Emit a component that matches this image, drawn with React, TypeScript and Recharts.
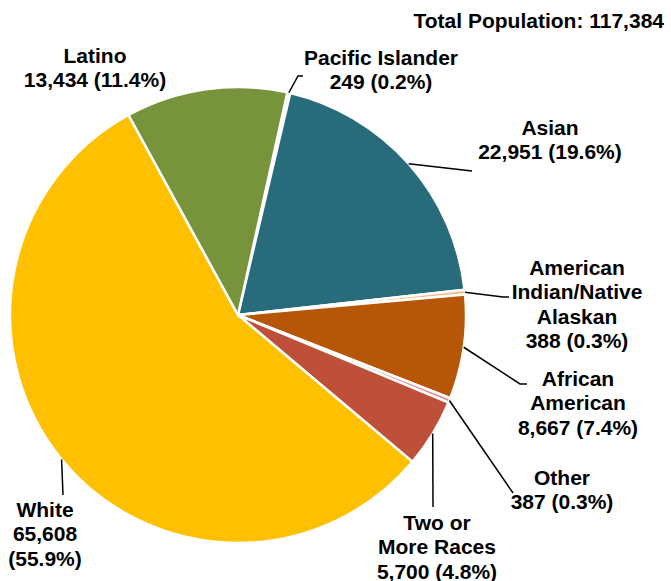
import React from "react";
import { PieChart, Pie, Cell } from "recharts";

const names = [
  "Pacific Islander",
  "Asian",
  "American Indian/Native Alaskan",
  "African American",
  "Other",
  "Two or More Races",
  "White",
  "Latino",
];
const values = [249, 22951, 388, 8667, 387, 5700, 65608, 13434];
const percentLabels = ["0.2%", "19.6%", "0.3%", "7.4%", "0.3%", "4.8%", "55.9%", "11.4%"];
const nameLines = [
  ["Pacific Islander"],
  ["Asian"],
  ["American", "Indian/Native", "Alaskan"],
  ["African", "American"],
  ["Other"],
  ["Two or", "More Races"],
  ["White"],
  ["Latino"],
];
const colors = ["#9DC3E6", "#286B7A", "#F8BD8E", "#B65708", "#D99694", "#BE4F38", "#FFC000", "#77933C"];
const totalLabel = "Total Population: 117,384";

// label layout, relative to pie centre: text centre (tx, ty of first line), leader elbow/end
const labelLayout = [
  { tx: 143, ty: -258, elbow: [60, -239], end: [65, -239], splitValue: false },
  { tx: 312, ty: -188, elbow: null, end: [234, -144], splitValue: false },
  { tx: 339, ty: -48, elbow: [265, -18], end: [271, -18], splitValue: false },
  { tx: 340, ty: 63, elbow: [282, 69], end: [289, 69], splitValue: false },
  { tx: 324, ty: 162, elbow: null, end: [275, 178], splitValue: false },
  { tx: 199, ty: 207, elbow: null, end: [195, 192], splitValue: false },
  { tx: -193, ty: 194, elbow: null, end: [-175, 180], splitValue: true },
  { tx: -143, ty: -260, elbow: null, end: null, splitValue: false },
];

const data = names.map((name, i) => ({ name, value: values[i] }));
const fmt = (v: number) => v.toLocaleString("en-US");
const FONT = '"Liberation Sans", Arial, sans-serif';
const RAD = Math.PI / 180;
const LINE_H = 24.5;

const renderLabel = (props: any) => {
  const { cx, cy, midAngle, outerRadius, index } = props;
  const lay = labelLayout[index];
  const lines = lay.splitValue
    ? [...nameLines[index], fmt(values[index]), `(${percentLabels[index]})`]
    : [...nameLines[index], `${fmt(values[index])} (${percentLabels[index]})`];
  const sx = cx + outerRadius * Math.cos(-midAngle * RAD);
  const sy = cy + outerRadius * Math.sin(-midAngle * RAD);
  let path = "";
  if (lay.end) {
    path = `M${sx},${sy}`;
    if (lay.elbow) path += ` L${cx + lay.elbow[0]},${cy + lay.elbow[1]}`;
    path += ` L${cx + lay.end[0]},${cy + lay.end[1]}`;
  }
  return (
    <g key={`lbl-${index}`}>
      {path && <path d={path} stroke="#000" strokeWidth={1.5} fill="none" />}
      <text
        x={cx + lay.tx}
        y={cy + lay.ty}
        textAnchor="middle"
        fontFamily={FONT}
        fontWeight="bold"
        fontSize={21}
        fill="#000"
      >
        {lines.map((l, k) => (
          <tspan key={k} x={cx + lay.tx} y={cy + lay.ty + k * LINE_H + 7.5}>
            {l}
          </tspan>
        ))}
      </text>
    </g>
  );
};

export default function App() {
  return (
    <div style={{ position: "absolute", left: 0, top: 0, width: 671, height: 581, background: "#fff" }}>
      <PieChart width={671} height={581} margin={{ top: 0, right: 0, bottom: 0, left: 0 }}>
        <Pie
          data={data}
          dataKey="value"
          nameKey="name"
          cx={238}
          cy={315}
          outerRadius={228}
          startAngle={77.5}
          endAngle={-282.5}
          stroke="#fff"
          strokeWidth={2.5}
          isAnimationActive={false}
          label={renderLabel}
          labelLine={false}
        >
          {data.map((d, i) => (
            <Cell key={d.name} fill={colors[i]} />
          ))}
        </Pie>
      </PieChart>
      <div
        style={{
          position: "absolute",
          right: 7,
          top: 8,
          fontFamily: FONT,
          fontWeight: "bold",
          fontSize: 21,
          lineHeight: "25px",
          color: "#000",
          whiteSpace: "nowrap",
        }}
      >
        {totalLabel}
      </div>
    </div>
  );
}
